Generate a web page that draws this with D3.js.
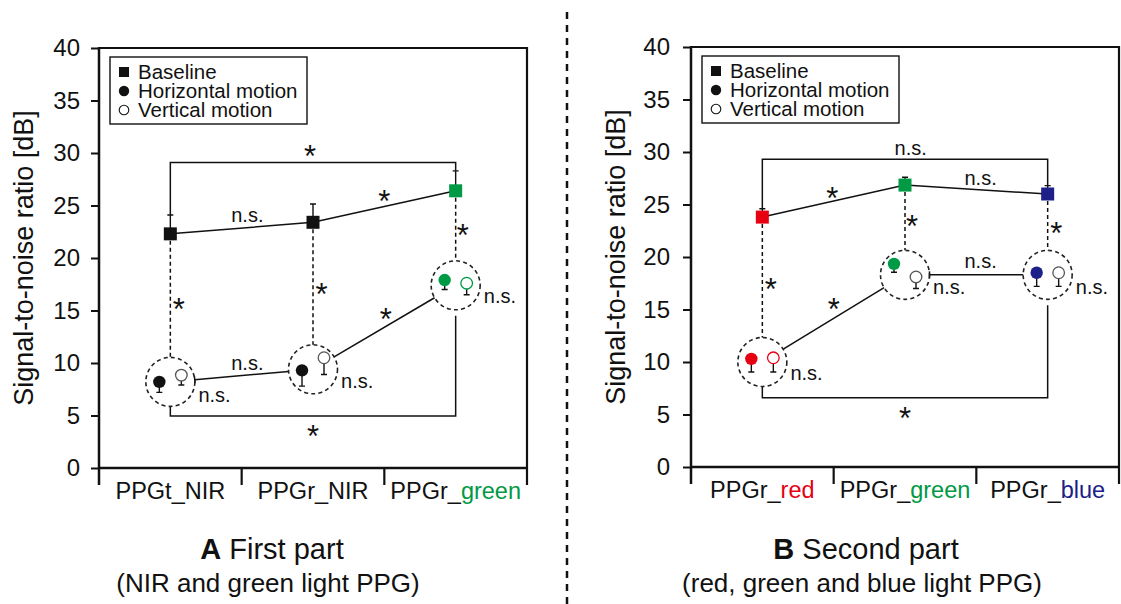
<!DOCTYPE html>
<html><head><meta charset="utf-8">
<script src="https://cdn.jsdelivr.net/npm/d3@7"></script>
<style>body{margin:0;background:#fff}svg{font-family:"Liberation Sans",Arial,Helvetica,sans-serif}</style>
</head><body><svg id="c" width="1121" height="604"></svg>
<script>
// ---------- shared ----------
const yTicks = [0, 5, 10, 15, 20, 25, 30, 35, 40];
const legendLabels = ["Baseline", "Horizontal motion", "Vertical motion"];
const GREEN = "#009944", RED = "#e60012", BLUE = "#1d2088", BLACK = "#111", GREY = "#555";

// ---------- Panel A : First part ----------
const catPrefixA = ["PPGt_NIR", "PPGr_NIR", "PPGr_"];
const catSuffixA = ["", "", "green"];
const suffixColorA = [BLACK, BLACK, GREEN];
const markColorA = [BLACK, BLACK, GREEN];
const openStrokeA = [GREY, GREY, GREEN];
const baselineA = [22.3, 23.4, 26.4];
const baselineErrA = [1.8, 1.75, 1.9];
const horizA = [8.2, 9.3, 17.9];
const horizErrA = [1.0, 1.5, 0.9];
const vertA = [8.85, 10.5, 17.6];
const vertErrA = [0.95, 1.6, 1.1];
const ringA = [8.2, 9.4, 17.4];
const bracketTopA = 29.1, bracketBottomA = 4.95;
const linkTickA = [true, false];
const annotA = [
  ["*", 0.98, 30.3], ["n.s.", 0.54, 23.9], ["*", 1.5, 26.0],
  ["*", 0.06, 15.7], ["*", 1.06, 17.1], ["*", 2.05, 22.8],
  ["n.s.", 0.54, 9.8], ["n.s.", 0.31, 6.8], ["n.s.", 1.31, 8.1], ["n.s.", 2.31, 16.2],
  ["*", 1.51, 14.8], ["*", 1.0, 3.6]
];

// ---------- Panel B : Second part ----------
const catPrefixB = ["PPGr_", "PPGr_", "PPGr_"];
const catSuffixB = ["red", "green", "blue"];
const suffixColorB = [RED, GREEN, BLUE];
const markColorB = [RED, GREEN, BLUE];
const openStrokeB = [RED, GREY, GREY];
const baselineB = [23.8, 26.85, 26.0];
const baselineErrB = [0.8, 0.75, 0.8];
const horizB = [10.3, 19.35, 18.5];
const horizErrB = [1.25, 0.8, 1.3];
const vertB = [10.4, 18.1, 18.5];
const vertErrB = [1.35, 1.1, 1.3];
const ringB = [10.0, 18.3, 18.3];
const bracketTopB = 29.3, bracketBottomB = 6.6;
const linkTickB = [false, true];
const annotB = [
  ["n.s.", 1.04, 30.2], ["*", 0.49, 26.2], ["n.s.", 1.53, 27.3],
  ["*", 0.06, 17.5], ["*", 1.05, 23.5], ["*", 2.06, 22.9],
  ["*", 0.5, 15.6], ["n.s.", 1.53, 19.4],
  ["n.s.", 0.31, 8.8], ["n.s.", 1.31, 17.0], ["n.s.", 2.31, 17.0],
  ["*", 1.0, 5.2]
];

const svg = d3.select("#c");

function panel(cfg) {
  const g = svg.append("g");
  const idx = cfg.prefix.map((d, i) => i);
  const x = d3.scaleBand().domain(idx).range([cfg.x0, cfg.x1]);
  const y = d3.scaleLinear().domain([0, 40]).range([cfg.yb, cfg.yt]);
  const cx = i => x(i) + x.bandwidth() / 2;
  const ix = d3.scaleLinear().domain([0, 2]).range([cx(0), cx(2)]);
  const R = 24.5;

  // frame top/right
  g.append("path").attr("d", `M${cfg.x0},${cfg.yt}H${cfg.x1}V${cfg.yb + 17}`)
    .attr("fill", "none").attr("stroke", BLACK).attr("stroke-width", 2.2);

  // y axis
  const ya = g.append("g").attr("transform", `translate(${cfg.x0},0)`)
    .call(d3.axisLeft(y).tickValues(yTicks).tickSize(8).tickPadding(cfg.pad).tickSizeOuter(0));
  ya.select(".domain").remove();
  ya.selectAll(".tick line").attr("stroke", BLACK).attr("stroke-width", 2);
  ya.selectAll(".tick text").attr("font-size", 24).attr("fill", BLACK)
    .attr("font-family", '"Liberation Sans",Arial,sans-serif');
  g.append("line").attr("x1", cfg.x0).attr("x2", cfg.x0).attr("y1", cfg.yt - 1).attr("y2", cfg.yb + 17)
    .attr("stroke", BLACK).attr("stroke-width", 2.5);

  // x axis
  g.append("line").attr("x1", cfg.x0).attr("x2", cfg.x1).attr("y1", cfg.yb).attr("y2", cfg.yb)
    .attr("stroke", BLACK).attr("stroke-width", 2.5);
  idx.slice(1).forEach(i => {
    g.append("line").attr("x1", x(i)).attr("x2", x(i)).attr("y1", cfg.yb).attr("y2", cfg.yb + 17)
      .attr("stroke", BLACK).attr("stroke-width", 2.2);
  });
  idx.forEach(i => {
    const t = g.append("text").attr("x", cx(i)).attr("y", cfg.yb + 31)
      .attr("text-anchor", "middle").attr("font-size", 23.5).attr("fill", BLACK);
    t.append("tspan").text(cfg.prefix[i]);
    if (cfg.suffix[i]) t.append("tspan").attr("fill", cfg.suffixColor[i]).text(cfg.suffix[i]);
  });

  // y title
  g.append("text").attr("transform", `translate(${cfg.x0 - 66},${(cfg.yt + cfg.yb) / 2}) rotate(-90)`)
    .attr("text-anchor", "middle").attr("font-size", 27).attr("fill", BLACK)
    .text("Signal-to-noise ratio [dB]");

  // legend
  const lx = cfg.x0 + 11, ly = cfg.yt + 9;
  g.append("rect").attr("x", lx).attr("y", ly).attr("width", 197).attr("height", 67)
    .attr("fill", "#fff").attr("stroke", BLACK).attr("stroke-width", 1.4);
  const rows = [ly + 15, ly + 34, ly + 53];
  g.append("rect").attr("x", lx + 9).attr("y", rows[0] - 5).attr("width", 10).attr("height", 10).attr("fill", BLACK);
  g.append("circle").attr("cx", lx + 14).attr("cy", rows[1]).attr("r", 5.2).attr("fill", BLACK);
  g.append("circle").attr("cx", lx + 14).attr("cy", rows[2]).attr("r", 4.8).attr("fill", "#fff")
    .attr("stroke", BLACK).attr("stroke-width", 1.1);
  legendLabels.forEach((s, k) => {
    g.append("text").attr("x", lx + 28).attr("y", rows[k] + 7).attr("font-size", 20.5).attr("fill", BLACK).text(s);
  });

  const thin = 1.5;
  // top bracket
  g.append("path")
    .attr("d", `M${cx(0)},${y(cfg.base[0] + cfg.baseErr[0])}V${y(cfg.bTop)}H${cx(2)}V${y(cfg.base[2] + cfg.baseErr[2])}`)
    .attr("fill", "none").attr("stroke", BLACK).attr("stroke-width", thin);
  // bottom bracket
  g.append("path")
    .attr("d", `M${cx(0)},${y(cfg.ring[0]) + R}V${y(cfg.bBot)}H${cx(2)}V${y(cfg.ring[2]) + R + 6}`)
    .attr("fill", "none").attr("stroke", BLACK).attr("stroke-width", thin);

  // dashed connectors baseline -> ring
  idx.forEach(i => {
    g.append("line").attr("x1", cx(i)).attr("x2", cx(i))
      .attr("y1", y(cfg.base[i])).attr("y2", y(cfg.ring[i]) - R)
      .attr("stroke", BLACK).attr("stroke-width", thin).attr("stroke-dasharray", "4,3");
  });

  // baseline line
  g.append("path").datum(idx).attr("d", d3.line().x(i => cx(i)).y(i => y(cfg.base[i])))
    .attr("fill", "none").attr("stroke", BLACK).attr("stroke-width", thin);

  // links between rings
  [0, 1].forEach(i => {
    const ax = cx(i), ay = y(cfg.ring[i]), bx = cx(i + 1), by = y(cfg.ring[i + 1]);
    const dx = bx - ax, dy = by - ay, L = Math.hypot(dx, dy), ux = dx / L, uy = dy / L;
    const sx = ax + ux * R, sy = ay + uy * R, ex = bx - ux * R, ey = by - uy * R;
    g.append("line").attr("x1", sx).attr("y1", sy).attr("x2", ex).attr("y2", ey)
      .attr("stroke", BLACK).attr("stroke-width", thin);
    if (cfg.linkTick[i]) {
      g.append("line").attr("x1", sx - uy * 3.5).attr("y1", sy + ux * 3.5)
        .attr("x2", sx + uy * 3.5).attr("y2", sy - ux * 3.5)
        .attr("stroke", BLACK).attr("stroke-width", thin);
    }
  });

  // rings
  idx.forEach(i => {
    g.append("circle").attr("cx", cx(i)).attr("cy", y(cfg.ring[i])).attr("r", R)
      .attr("fill", "none").attr("stroke", "#222").attr("stroke-width", 1.6).attr("stroke-dasharray", "4,3.2");
  });

  // error bars + markers
  const cap = 3;
  idx.forEach(i => {
    // baseline
    const bx = cx(i), by = y(cfg.base[i]), bt = y(cfg.base[i] + cfg.baseErr[i]);
    g.append("path").attr("d", `M${bx},${by}V${bt}M${bx - cap},${bt}H${bx + cap}`)
      .attr("stroke", BLACK).attr("stroke-width", 1.4).attr("fill", "none");
    g.append("rect").attr("x", bx - 6.5).attr("y", by - 6.5).attr("width", 13).attr("height", 13)
      .attr("fill", cfg.color[i]);
    // horizontal
    const hx = cx(i) - 11, hy = y(cfg.horiz[i]), hb = y(cfg.horiz[i] - cfg.horizErr[i]);
    g.append("path").attr("d", `M${hx},${hy}V${hb}M${hx - cap},${hb}H${hx + cap}`)
      .attr("stroke", BLACK).attr("stroke-width", 1.4).attr("fill", "none");
    g.append("circle").attr("cx", hx).attr("cy", hy).attr("r", 6.2).attr("fill", cfg.color[i]);
    // vertical
    const vx = cx(i) + 11, vy = y(cfg.vert[i]), vb = y(cfg.vert[i] - cfg.vertErr[i]);
    g.append("path").attr("d", `M${vx},${vy}V${vb}M${vx - cap},${vb}H${vx + cap}`)
      .attr("stroke", BLACK).attr("stroke-width", 1.4).attr("fill", "none");
    g.append("circle").attr("cx", vx).attr("cy", vy).attr("r", 5.8).attr("fill", "#fff")
      .attr("stroke", cfg.open[i]).attr("stroke-width", 1.3);
  });

  // annotations
  cfg.annot.forEach(([s, i, v]) => {
    const star = s === "*";
    g.append("text").attr("x", ix(i)).attr("y", y(v) + (star ? 17 : 5))
      .attr("text-anchor", "middle").attr("font-size", star ? 31 : 20).attr("fill", BLACK).text(s);
  });
}

panel({x0: 99, x1: 527, yt: 48, yb: 468, pad: 11,
  prefix: catPrefixA, suffix: catSuffixA, suffixColor: suffixColorA, color: markColorA, open: openStrokeA,
  base: baselineA, baseErr: baselineErrA, horiz: horizA, horizErr: horizErrA, vert: vertA, vertErr: vertErrA,
  ring: ringA, bTop: bracketTopA, bBot: bracketBottomA, linkTick: linkTickA, annot: annotA});
panel({x0: 691, x1: 1119, yt: 47, yb: 467, pad: 13,
  prefix: catPrefixB, suffix: catSuffixB, suffixColor: suffixColorB, color: markColorB, open: openStrokeB,
  base: baselineB, baseErr: baselineErrB, horiz: horizB, horizErr: horizErrB, vert: vertB, vertErr: vertErrB,
  ring: ringB, bTop: bracketTopB, bBot: bracketBottomB, linkTick: linkTickB, annot: annotB});

// divider
svg.append("line").attr("x1", 567).attr("x2", 567).attr("y1", 12).attr("y2", 604)
  .attr("stroke", BLACK).attr("stroke-width", 2.5).attr("stroke-dasharray", "7,6");

// titles
const titles = [["A", " First part", "(NIR and green light PPG)", 272, 268],
                ["B", " Second part", "(red, green and blue light PPG)", 866, 862]];
titles.forEach(([b, t, sub, tx, sx]) => {
  const T = svg.append("text").attr("x", tx).attr("y", 559).attr("text-anchor", "middle")
    .attr("font-size", 29).attr("fill", BLACK);
  T.append("tspan").attr("font-weight", "bold").text(b);
  T.append("tspan").text(t);
  svg.append("text").attr("x", sx).attr("y", 592).attr("text-anchor", "middle")
    .attr("font-size", 26).attr("fill", BLACK).text(sub);
});
</script></body></html>
